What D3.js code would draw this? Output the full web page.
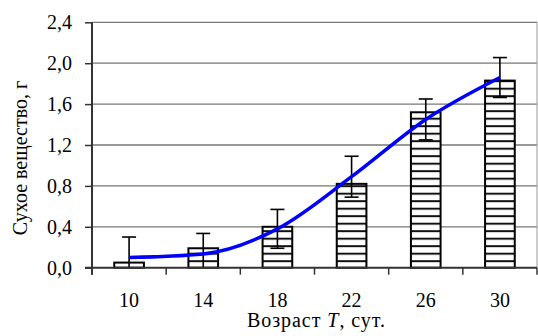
<!DOCTYPE html>
<html><head><meta charset="utf-8">
<script src="https://cdn.jsdelivr.net/npm/d3@7"></script>
<style>body{margin:0;background:#fff}svg{display:block}text{font-family:"Liberation Serif","Times New Roman",serif;fill:#000}</style>
</head><body><svg id="c" width="538" height="336"></svg>
<script>
const categories = ["10","14","18","22","26","30"];
const barValues  = [0.05, 0.19, 0.40, 0.82, 1.52, 1.83];
const lineValues = [0.10, 0.135, 0.38, 0.89, 1.45, 1.86];
const errValues  = [0.20, 0.20, 0.19, 0.20, 0.20, 0.195];
const yTicks = [0, 0.4, 0.8, 1.2, 1.6, 2.0, 2.4];

const svg = d3.select("#c");
const FF = "Liberation Serif";
const L = 92, R = 537, T = 22.3, B = 267.7;
const x = d3.scaleBand().domain(categories).range([L, R]).padding(0);
const y = d3.scaleLinear().domain([0, 2.4]).range([B, T]);
const fmt = v => v.toFixed(1).replace(".", ",");

const defs = svg.append("defs");
const pat = defs.append("pattern").attr("id","hatch").attr("patternUnits","userSpaceOnUse")
  .attr("width", 8).attr("height", 7.5).attr("y", B);
pat.append("rect").attr("width",8).attr("height",7.5).attr("fill","#fff");
pat.append("rect").attr("y",0).attr("width",8).attr("height",2).attr("fill","#111");

// gridlines
svg.append("g").selectAll("line").data(yTicks.filter(d=>d>0)).join("line")
  .attr("x1", L).attr("x2", R).attr("y1", d=>y(d)).attr("y2", d=>y(d))
  .attr("stroke","#777").attr("stroke-width",1.3);
// right border
svg.append("line").attr("x1",R).attr("x2",R).attr("y1",T).attr("y2",B)
  .attr("stroke","#999").attr("stroke-width",1);

// bars
const bw = x.bandwidth()*0.4;
svg.append("g").selectAll("rect").data(categories).join("rect")
  .attr("x", (d)=>x(d)+x.bandwidth()/2-bw/2)
  .attr("width", bw)
  .attr("y", (d,i)=>y(barValues[i]))
  .attr("height", (d,i)=>B-y(barValues[i]))
  .attr("fill","url(#hatch)").attr("stroke","#000").attr("stroke-width",2);

// error bars
const eg = svg.append("g").attr("stroke","#000").attr("stroke-width",1.6);
categories.forEach((c,i)=>{
  const cx = x(c)+x.bandwidth()/2;
  const hi = lineValues[i]+errValues[i], lo = lineValues[i]-errValues[i];
  eg.append("line").attr("x1",cx).attr("x2",cx).attr("y1",y(hi)).attr("y2",y(Math.max(0,lo)));
  eg.append("line").attr("x1",cx-7).attr("x2",cx+7).attr("y1",y(hi)).attr("y2",y(hi));
  if (lo >= 0) eg.append("line").attr("x1",cx-7).attr("x2",cx+7).attr("y1",y(lo)).attr("y2",y(lo));
});

// smooth line
const line = d3.line().x((d,i)=>x(categories[i])+x.bandwidth()/2).y(d=>y(d)).curve(d3.curveMonotoneX);
svg.append("path").datum(lineValues).attr("d", line).attr("fill","none")
  .attr("stroke","#0000ff").attr("stroke-width",3.5);

// y axis
const ya = svg.append("g").attr("transform",`translate(${L},0)`)
  .call(d3.axisLeft(y).tickValues(yTicks).tickFormat(fmt).tickSize(7).tickPadding(13));
ya.select(".domain").remove();
ya.selectAll(".tick line").attr("stroke","#333").attr("stroke-width",1.5);
ya.selectAll("text").attr("font-size",20).attr("font-family",FF).attr("fill","#000");
svg.append("line").attr("x1",L).attr("x2",L).attr("y1",T).attr("y2",B+7).attr("stroke","#333").attr("stroke-width",2);

// x axis
const xa = svg.append("g").attr("transform",`translate(0,${B})`)
  .call(d3.axisBottom(x).tickSize(0).tickPadding(25));
xa.select(".domain").remove();
xa.selectAll("text").attr("font-size",20).attr("font-family",FF).attr("fill","#000");
svg.append("line").attr("x1",L-7).attr("x2",R).attr("y1",B).attr("y2",B).attr("stroke","#333").attr("stroke-width",2);
svg.append("g").selectAll("line").data(categories.concat(["end"])).join("line")
  .attr("x1",(d,i)=>L+i*x.step()).attr("x2",(d,i)=>L+i*x.step())
  .attr("y1",B).attr("y2",B+7).attr("stroke","#333").attr("stroke-width",1.5);

// titles
const xt = svg.append("text").attr("x", 316).attr("y", 327).attr("text-anchor","middle").attr("font-size",20)
  .attr("font-family",FF).attr("textLength",138).attr("lengthAdjust","spacing");
xt.append("tspan").text("Возраст ");
xt.append("tspan").attr("font-style","italic").text("T");
xt.append("tspan").text(", сут.");
svg.append("text").attr("transform","translate(27,158) rotate(-90)").attr("text-anchor","middle")
  .attr("font-size",20).attr("font-family",FF).text("Сухое вещество, г");
</script></body></html>
